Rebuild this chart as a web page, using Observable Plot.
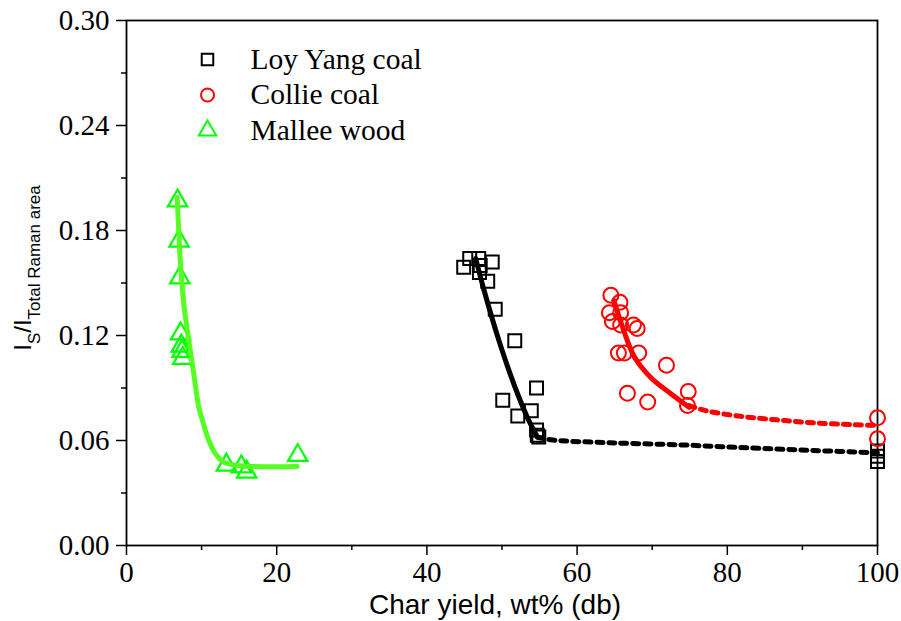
<!DOCTYPE html>
<html><head><meta charset="utf-8">
<script src="https://cdn.jsdelivr.net/npm/d3@7"></script>
<script src="https://cdn.jsdelivr.net/npm/@observablehq/plot@0.6"></script>
<style>
body{margin:0;background:#fff;}
</style>
</head><body><div id="chart"></div>
<script>
// ---- data ----
const loyX = [44.9, 45.7, 46.9, 47.1, 47.0, 48.7, 48.1, 49.1, 51.7, 54.6, 50.1, 52.1, 53.9, 54.6, 54.7, 54.9, 100, 100, 100];
const loyY = [0.159, 0.164, 0.164, 0.160, 0.156, 0.162, 0.151, 0.135, 0.117, 0.090, 0.083, 0.074, 0.077, 0.066, 0.063, 0.062, 0.054, 0.051, 0.048];
const loyFitX = [46.5, 47.6, 49.6, 51.6, 53.4, 54.7];
const loyFitY = [0.164, 0.146, 0.117, 0.092, 0.073, 0.062];
const loyExtX = [54.7, 56.5, 64.4, 73.8, 82.6, 91.5, 100];
const loyExtY = [0.062, 0.0604, 0.0587, 0.0575, 0.0558, 0.0543, 0.053];

const collieX = [64.5, 65.7, 64.3, 65.8, 64.7, 65.8, 67.5, 68.0, 65.5, 66.3, 68.2, 71.9, 66.7, 69.4, 74.8, 74.7, 100, 100];
const collieY = [0.143, 0.139, 0.133, 0.133, 0.128, 0.126, 0.126, 0.124, 0.110, 0.110, 0.110, 0.103, 0.087, 0.082, 0.088, 0.080, 0.073, 0.061];
const collieFitX = [64.9, 66.2, 67.6, 69.8, 72.4, 74.9];
const collieFitY = [0.140, 0.123, 0.108, 0.096, 0.087, 0.079];
const collieExtX = [74.9, 77.1, 81.8, 86.6, 91.5, 96.8, 100];
const collieExtY = [0.080, 0.0771, 0.0738, 0.0718, 0.0701, 0.069, 0.0686];

const malleeX = [6.8, 7.0, 7.1, 7.2, 7.3, 7.4, 7.5, 13.3, 15.3, 16.0, 22.8];
const malleeY = [0.197, 0.174, 0.153, 0.121, 0.114, 0.111, 0.107, 0.046, 0.045, 0.042, 0.0515];
const malleeFitX = [6.75, 7.19, 7.63, 8.30, 8.96, 9.63, 10.08, 10.96, 11.85, 12.96, 14.74, 22.73];
const malleeFitY = [0.199, 0.161, 0.138, 0.117, 0.098, 0.079, 0.072, 0.060, 0.0524, 0.0476, 0.0457, 0.0451];

const xMajor = [0, 20, 40, 60, 80, 100];
const xMinor = [10, 30, 50, 70, 90];
const yMajor = [0, 0.06, 0.12, 0.18, 0.24, 0.30];
const yMinor = [0.03, 0.09, 0.15, 0.21, 0.27];

const legendLabels = ["Loy Yang coal", "Collie coal", "Mallee wood"];
const legendSymbols = ["square", "circle", "triangle"];
const legendColors = ["#000000", "#ff0000", "#00ff00"];

const xTitle = "Char yield, wt% (db)";

// ---- build rows ----
const rows = (xs, ys) => xs.map((x, i) => ({x, y: ys[i]}));

const serif = "Liberation Serif";
const sans = "Liberation Sans";

const legendMarks = legendLabels.flatMap((lab, i) => [
  Plot.dot([lab], {frameAnchor: "top-left", dx: 81, dy: 39 + i * 35.5, symbol: legendSymbols[i], r: 6.5, stroke: legendColors[i], strokeWidth: 2, fill: "none"}),
  Plot.text([lab], {frameAnchor: "top-left", dx: 124, dy: 39 + i * 35.5, lineAnchor: "middle", text: d => d, textAnchor: "start", fontSize: 29.5, fontFamily: serif, fill: "black"})
]);

const chart = Plot.plot({
  width: 901, height: 621,
  marginLeft: 126, marginRight: 24, marginTop: 20, marginBottom: 76,
  x: {domain: [0, 100]},
  y: {domain: [0, 0.3]},
  style: {background: "white", color: "black"},
  marks: [
    // ticks (labels drawn separately in serif)
    Plot.axisY(yMajor, {tickSize: 10, tickFormat: () => "", label: null, strokeWidth: 1.5}),
    Plot.axisY(yMinor, {tickSize: 5, tickFormat: () => "", label: null, strokeWidth: 1.5}),
    Plot.axisX(xMajor, {tickSize: 10, tickFormat: () => "", label: null, strokeWidth: 1.5}),
    Plot.axisX(xMinor, {tickSize: 5, tickFormat: () => "", label: null, strokeWidth: 1.5}),
    Plot.text(yMajor, {y: d => d, frameAnchor: "left", dx: -17, textAnchor: "end", lineAnchor: "middle", text: d => d.toFixed(2), fontSize: 29, fontFamily: serif, fill: "black"}),
    Plot.text(xMajor, {x: d => d, frameAnchor: "bottom", dy: 16, textAnchor: "middle", lineAnchor: "top", text: d => String(d), fontSize: 29, fontFamily: serif, fill: "black"}),
    Plot.frame({stroke: "black", strokeWidth: 1.8}),
    Plot.dot(rows(malleeX, malleeY), {x: "x", y: "y", symbol: "triangle", r: 7.2, stroke: "#00ff00", strokeWidth: 2.2, fill: "none"}),
    Plot.dot(rows(loyX, loyY), {x: "x", y: "y", symbol: "square", r: 7.3, stroke: "black", strokeWidth: 2, fill: "none"}),
    Plot.dot(rows(collieX, collieY), {x: "x", y: "y", symbol: "circle", r: 7.5, stroke: "#ff0000", strokeWidth: 2, fill: "none"}),
    Plot.line(rows(malleeFitX, malleeFitY), {x: "x", y: "y", stroke: "#55ff22", strokeWidth: 5, curve: "catmull-rom"}),
    Plot.line(rows(loyFitX, loyFitY), {x: "x", y: "y", stroke: "black", strokeWidth: 5, curve: "catmull-rom"}),
    Plot.line(rows(loyExtX, loyExtY), {x: "x", y: "y", stroke: "black", strokeWidth: 5, strokeDasharray: "6,6", curve: "catmull-rom"}),
    Plot.line(rows(collieFitX, collieFitY), {x: "x", y: "y", stroke: "#ff0000", strokeWidth: 5, curve: "catmull-rom"}),
    Plot.line(rows(collieExtX, collieExtY), {x: "x", y: "y", stroke: "#ff0000", strokeWidth: 5, strokeDasharray: "6,6", curve: "catmull-rom"}),
    ...legendMarks,
    Plot.text([xTitle], {frameAnchor: "bottom", dx: -7, dy: 60, lineAnchor: "middle", text: d => d, fontSize: 28, fontFamily: sans, fill: "black"})
  ]
});

const svg = d3.select(chart);

// y-axis title with subscripts
const yt = svg.append("text")
  .attr("transform", "translate(31,268) rotate(-90)")
  .attr("text-anchor", "middle")
  .attr("font-family", sans)
  .attr("fill", "black");
yt.append("tspan").attr("font-size", 24).text("I");
yt.append("tspan").attr("font-size", 17).attr("dy", 9).text("S");
yt.append("tspan").attr("font-size", 24).attr("dy", -9).text("/I");
yt.append("tspan").attr("font-size", 17).attr("dy", 9).text("Total Raman area");

document.getElementById("chart").appendChild(chart);
</script>
</body></html>
